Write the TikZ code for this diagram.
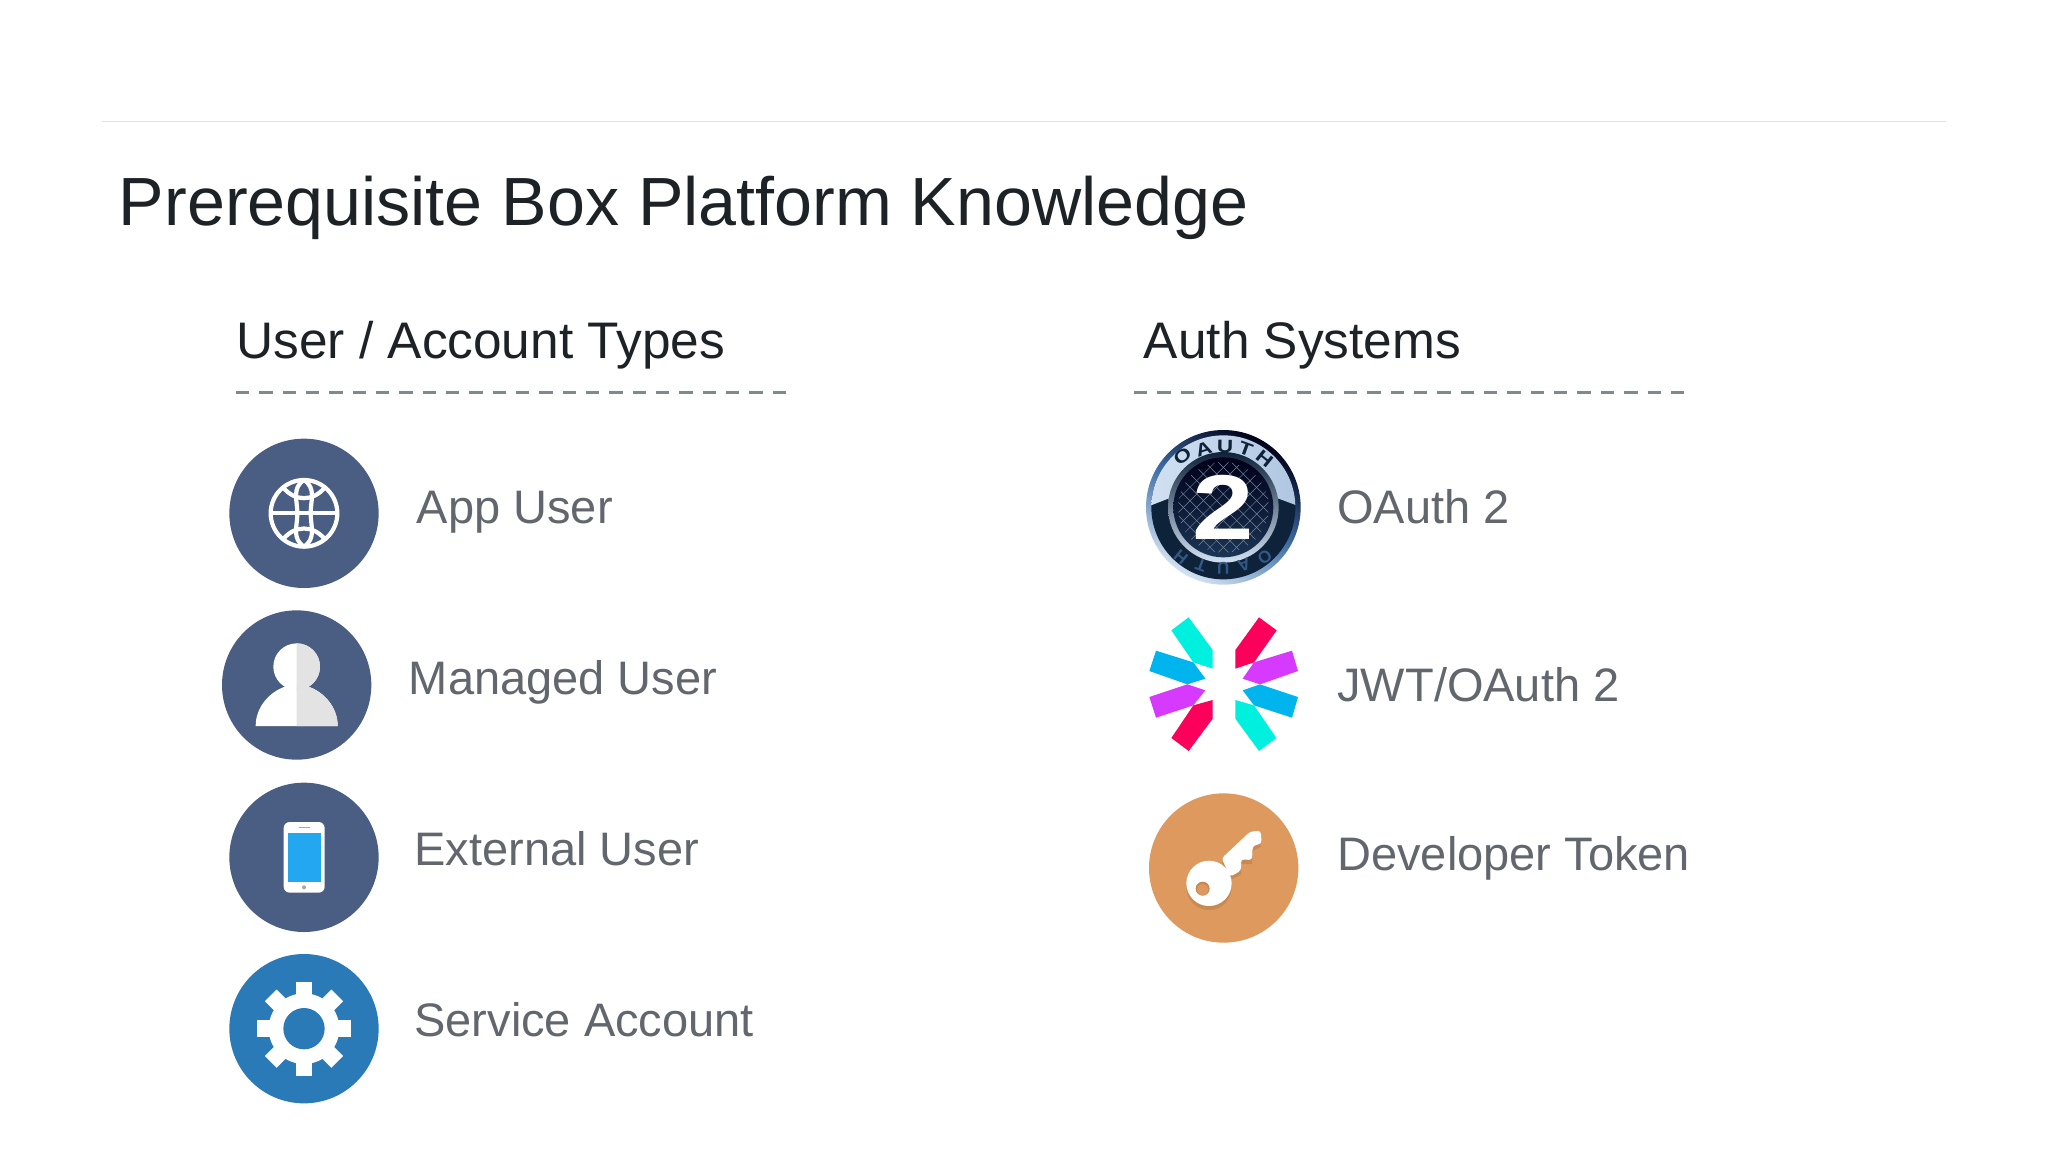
\documentclass[tikz,border=0pt]{standalone}
\usepackage{fontspec}
\usepackage{graphicx}
\setmainfont{Liberation Sans}
\definecolor{navyc}{HTML}{4A5D82}
\definecolor{bluec}{HTML}{2A7AB8}
\definecolor{labelc}{HTML}{62666D}
\definecolor{headc}{HTML}{1C2226}
\definecolor{dashc}{HTML}{7F8A90}
\definecolor{rulec}{HTML}{DFE1E3}
\definecolor{oran}{HTML}{DE9A5E}
\definecolor{orand}{HTML}{C98A52}
\definecolor{jteal}{HTML}{00F0E0}
\definecolor{jred}{HTML}{FB015B}
\definecolor{jblue}{HTML}{00B5EE}
\definecolor{jpurp}{HTML}{D63AFF}
\definecolor{scr}{HTML}{22A7F0}
\definecolor{ogrey}{HTML}{E3E3E3}
\definecolor{onavy}{HTML}{0E2239}
\definecolor{opale}{HTML}{D3E2F3}
\definecolor{omid}{HTML}{3F6FA8}
\tikzset{
  titletext/.style={anchor=base west,font=\fontsize{34.1}{40}\selectfont,text=headc,inner sep=0pt},
  headtext/.style={anchor=base west,font=\fontsize{25.7}{30}\selectfont,text=headc,inner sep=0pt},
  labeltext/.style={anchor=base west,font=\fontsize{23.5}{28}\selectfont,text=labelc,inner sep=0pt},
  dashline/.style={draw=dashc,line width=1.6pt,dash pattern=on 6.67pt off 5pt},
  icon/.style={shift={(#1)},scale=1/3},
  oletter/.style={font=\bfseries\fontsize{9}{10}\selectfont,inner sep=0pt},
  oletterb/.style={font=\bfseries\fontsize{8.5}{10}\selectfont,inner sep=0pt,text=omid!80!black},
}
\begin{document}
\begin{tikzpicture}[x=0.5pt,y=-0.5pt]
\useasboundingbox (0,0) rectangle (2048,1152);
\fill[white] (0,0) rectangle (2048,1152);
% top rule
\coordinate (ruleA) at (102,121.5);
\coordinate (ruleB) at (1946,121.5);
\draw[rulec,line width=0.9pt] (ruleA) -- (ruleB);
\node[titletext] (title) at (118.5,225) {Prerequisite Box Platform Knowledge};
\node[headtext] (headUser) at (236,358) {User / Account Types};
\node[headtext] (headAuth) at (1143.5,358) {Auth Systems};
\coordinate (dashA) at (236,392.5);
\coordinate (dashB) at (786,392.5);
\coordinate (dashC) at (1134,392.5);
\coordinate (dashD) at (1685,392.5);
\draw[dashline] (dashA) -- (dashB);
\draw[dashline] (dashC) -- (dashD);
% labels
\node[labeltext] (lApp) at (416.5,523) {App User};
\node[labeltext] (lMan) at (408.5,694) {Managed User};
\node[labeltext] (lExt) at (414,865) {External User};
\node[labeltext] (lSvc) at (414,1036) {Service Account};
\node[labeltext] (lOA) at (1337,523) {OAuth 2};
\node[labeltext] (lJWT) at (1337,701) {JWT/OAuth 2};
\node[labeltext] (lDev) at (1337,870) {Developer Token};
% globe
\begin{scope}[icon={210,420}]
\fill[navyc] (282,280) circle (224);
\begin{scope}[white,line width=2.1pt]
\draw (282,280) circle (100);
\draw (182,280) -- (382,280);
\draw (282,180) .. controls (245,205) and (262,240) .. (262,280) .. controls (262,320) and (245,355) .. (282,380);
\draw (282,180) .. controls (319,205) and (302,240) .. (302,280) .. controls (302,320) and (319,355) .. (282,380);
\draw (220,203) .. controls (255,245) and (309,245) .. (344,203);
\draw (220,357) .. controls (255,315) and (309,315) .. (344,357);
\end{scope}
% person
\fill[navyc] (260,795) circle (224);
\fill[white] (260,740) circle (70);
\fill[white] (137,918) .. controls (137,860) and (180,815) .. (225,800) -- (295,800) .. controls (340,815) and (383,860) .. (383,918) -- cycle;
\begin{scope}
\clip (260,650) rectangle (400,930);
\fill[ogrey] (260,740) circle (70);
\fill[ogrey] (137,918) .. controls (137,860) and (180,815) .. (225,800) -- (295,800) .. controls (340,815) and (383,860) .. (383,918) -- cycle;
\end{scope}
\end{scope}
% phone and gear
\begin{scope}[icon={210,770}]
\fill[navyc] (282,262) circle (224);
\fill[white,rounded corners=3pt] (221,156) rectangle (344,368);
\fill[scr] (233,188) rectangle (333,335);
\fill[gray!70] (268,170) rectangle (300,175);
\fill[gray!70] (282,352) circle (6);
\fill[bluec] (282,776) circle (224);
\fill[white] (282,776) circle (106);
\foreach \a in {0,45,...,315}{
  \fill[white,rotate around={\a:(282,776)}] (257,776) rectangle (307,635);
}
\fill[bluec] (282,776) circle (62);
\end{scope}
% oauth
\begin{scope}[icon={1130,420}]
\shade[top color=black!90!blue,bottom color=opale,middle color=omid,shading angle=-30] (280,262) circle (232);
\begin{scope}
\clip (280,262) circle (216);
\fill[onavy] (40,20) rectangle (520,500);
\shade[left color=opale,right color=opale!75!omid] (40,20) -- (520,20) -- (520,264) -- (505,258) -- (430,230) -- (130,230) -- (58,258) -- (40,264) -- cycle;
\end{scope}
\shade[top color=onavy,bottom color=opale] (280,262) circle (166);
\shade[top color=black!90!blue,bottom color=onavy!75!omid] (280,262) circle (150);
\begin{scope}
\clip (280,262) circle (136);
\foreach \d in {-280,-240,...,280}{
  \draw[omid!45!white!70!black,line width=0.25pt] (280+\d-200,262-200) -- (280+\d+200,262+200);
  \draw[omid!45!white!70!black,line width=0.25pt] (280+\d-200,262+200) -- (280+\d+200,262-200);
}
\end{scope}
\node[oletter,rotate=38,text=onavy] (o1) at (157,110) {\scalebox{1.25}[1]{O}};
\node[oletter,rotate=18,text=onavy] (o2) at (221,88) {\scalebox{1.25}[1]{A}};
\node[oletter,rotate=-1,text=onavy] (o3) at (285,81) {\scalebox{1.25}[1]{U}};
\node[oletter,rotate=-20,text=onavy] (o4) at (347,88) {\scalebox{1.25}[1]{T}};
\node[oletter,rotate=-39,text=onavy] (o5) at (404,115) {\scalebox{1.25}[1]{H}};
\node[oletterb,rotate=218] (o6) at (404,412) {O};
\node[oletterb,rotate=198] (o7) at (342,436) {A};
\node[oletterb,rotate=180] (o8) at (280,445) {U};
\node[oletterb,rotate=160] (o9) at (213,436) {T};
\node[oletterb,rotate=141] (o10) at (153,412) {H};
\node[inner sep=0pt,text=white,font=\bfseries\fontsize{46}{50}\selectfont] (two) at (281,262) {\scalebox{1.2}[1]{2}};
\end{scope}
% jwt
\begin{scope}[icon={1130,600}]
\fill[jteal] (176,52) -- (124,91) -- (190,187) -- (248,206) -- (248,150) -- cycle;
\fill[jred] (387,52) -- (440,91) -- (372,187) -- (316,206) -- (316,150) -- cycle;
\fill[jblue] (78,152) -- (58,213) -- (172,253) -- (226,236) -- (190,187) -- cycle;
\fill[jpurp] (486,152) -- (504,213) -- (390,253) -- (338,236) -- (372,187) -- cycle;
\fill[jpurp] (58,291) -- (78,353) -- (190,316) -- (226,271) -- (172,253) -- cycle;
\fill[jblue] (504,291) -- (486,353) -- (372,316) -- (338,271) -- (390,253) -- cycle;
\fill[jred] (124,414) -- (176,453) -- (248,356) -- (248,300) -- (190,316) -- cycle;
\fill[jteal] (439,414) -- (387,453) -- (316,356) -- (316,300) -- (372,316) -- cycle;
\end{scope}
% key
\begin{scope}[icon={1130,780}]
\fill[oran] (281,264) circle (224);
\fill[orand] (237,322) circle (68);
\fill[orand] (275,247) -- (360,167) -- (395,200) -- (368,212) -- (366,252) -- (333,252) -- (333,284) -- (300,300) -- cycle;
\fill[white] (237,310) circle (68);
\fill[white,rounded corners=1.5pt] (275,235) -- (360,155) -- (392,152) -- (395,190) -- (368,198) -- (366,240) -- (333,238) -- (333,272) -- (300,290) -- cycle;
\fill[orand] (218,326) circle (21);
\fill[oran] (218,329) circle (17);
\end{scope}
\end{tikzpicture}
\end{document}
